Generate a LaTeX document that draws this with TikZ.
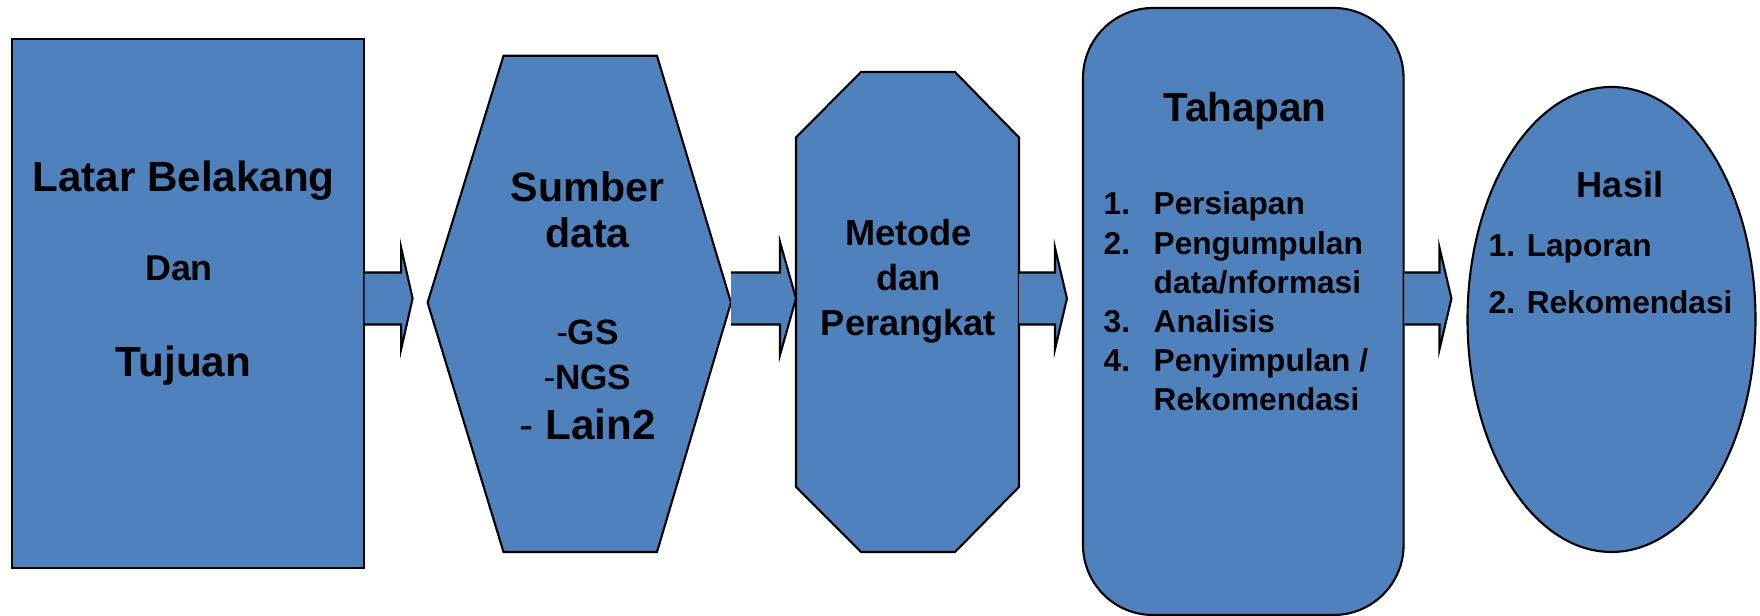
\documentclass[tikz,border=0pt]{standalone}
\usepackage{fontspec}
\setmainfont{Liberation Sans}
\usetikzlibrary{calc,shapes.geometric}

\definecolor{boxblue}{RGB}{79,129,189}

\tikzset{
  box/.style={draw=black, fill=boxblue, line width=0.6pt},
  flow/.style={draw=black, fill=boxblue, line width=0.6pt, line join=miter},
  txt/.style={anchor=base, inner sep=0pt, font=\bfseries},
}

% fat arrow from x of #1 to tip at x of #2, head length #3, head half height #4
\def\rowy{3.175cm}
\newcommand{\flowarrow}[4]{%
  \draw[flow] let \p1=(#1), \p2=(#2) in
    (\x1,\rowy+2.6mm) -- (\x2-#3,\rowy+2.6mm) -- (\x2-#3,\rowy+#4) -- (\x2,\rowy)
    -- (\x2-#3,\rowy-#4) -- (\x2-#3,\rowy-2.6mm) -- (\x1,\rowy-2.6mm);}

\newcommand{\fs}[1]{\fontsize{#1}{1.2\dimexpr#1\relax}\selectfont}

\begin{document}
\begin{tikzpicture}
  \useasboundingbox (0,0) rectangle (17.6,6.16);

  % Latar belakang
  \node[box, rectangle, minimum width=3.513cm, minimum height=5.285cm] (latar) at (1.88,3.1245) {};
  \node[txt] (latar1) at (1.835,4.24) {\fs{12pt}Latar Belakang};
  \node[txt] (latar2) at (1.79,3.35) {\fs{10.2pt}Dan};
  \node[txt] (latar3) at (1.835,2.39) {\fs{12pt}Tujuan};

  % Sumber data (hexagon)
  \coordinate (sumberW) at (4.276,3.134);
  \coordinate (sumberE) at (7.31,3.134);
  \draw[box] (sumberW) -- (5.035,5.602) -- (6.57,5.602) -- (sumberE)
    -- (6.57,0.64) -- (5.035,0.64) -- cycle;
  \node[txt] (sumber1) at (5.875,4.14) {\fs{11.7pt}Sumber};
  \node[txt] (sumber2) at (5.875,3.68) {\fs{11.7pt}data};
  \node[txt] (sumber3) at (5.875,2.71) {\fs{10pt}\mdseries-\bfseries GS};
  \node[txt] (sumber4) at (5.875,2.26) {\fs{10pt}\mdseries-\bfseries NGS};
  \node[txt] (sumber5) at (5.875,1.76) {\fs{12pt}\mdseries- \bfseries Lain2};

  % Metode (octagon)
  \coordinate (metodeW) at (7.96,3.12);
  \coordinate (metodeE) at (10.19,3.12);
  \draw[box] (7.96,4.785) -- (8.61,5.44) -- (9.55,5.44) -- (10.19,4.785)
    -- (10.19,1.29) -- (9.55,0.64) -- (8.61,0.64) -- (7.96,1.29) -- cycle;
  \node[txt] (metode1) at (9.085,3.70) {\fs{10.3pt}Metode};
  \node[txt] (metode2) at (9.085,3.25) {\fs{10.3pt}dan};
  \node[txt] (metode3) at (9.085,2.80) {\fs{10.3pt}Perangkat};

  % Tahapan
  \node[box, rectangle, rounded corners=0.7cm, minimum width=3.206cm, minimum height=6.07cm] (tahap) at (12.433,3.045) {};
  \node[txt] (tahap0) at (12.45,4.94) {\fs{11.5pt}Tahapan};
  \node[txt, anchor=base west] (tahaplist) at (11.03,4.01)
    {\fontsize{9pt}{11.15pt}\selectfont
     \begin{tabular}[t]{@{}p{0.5cm}@{}l@{}}
       1. & Persiapan\\
       2. & Pengumpulan\\
          & data/nformasi\\
       3. & Analisis\\
       4. & Penyimpulan /\\
          & Rekomendasi
     \end{tabular}};

  % Hasil
  \node[box, ellipse, minimum width=2.88cm, minimum height=4.65cm, inner sep=0pt] (hasil) at (16.115,2.965) {};
  \node[txt] (hasil0) at (16.2,4.18) {\fs{10.3pt}Hasil};
  \node[txt, anchor=base west] (hasil1) at (14.88,3.59) {\fs{9pt}1. Laporan};
  \node[txt, anchor=base west] (hasil2) at (14.88,3.02) {\fs{9pt}2. Rekomendasi};

  % Arrows
  \flowarrow{latar.east}{$(sumberW)+(-1.5mm,0)$}{1.15mm}{5.1mm}
  \flowarrow{sumberE}{metodeW}{1.6mm}{5.65mm}
  \flowarrow{metodeE}{$(tahap.west)+(-1.5mm,0)$}{1.2mm}{5.1mm}
  \flowarrow{tahap.east}{$(hasil.west)+(-1.5mm,0)$}{1.2mm}{5.1mm}
\end{tikzpicture}
\end{document}
